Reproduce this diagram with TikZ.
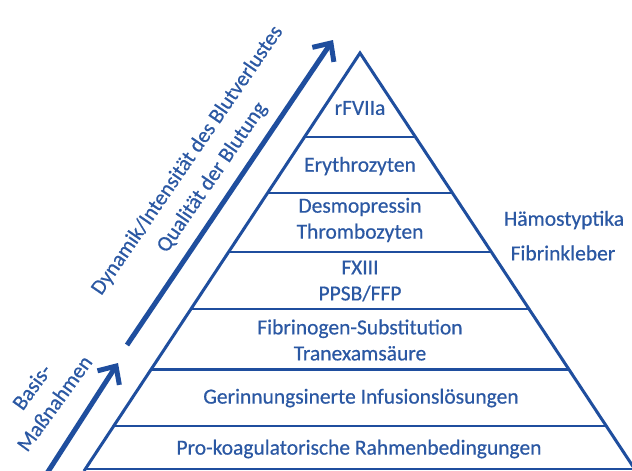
\documentclass[tikz,border=0pt]{standalone}
\usepackage{fontspec}
\setmainfont{Carlito}[FakeBold=0.5]
\usetikzlibrary{arrows.meta}
\definecolor{lineblue}{HTML}{1F4E9E}
\definecolor{textblue}{HTML}{2B58A3}
\begin{document}
\begin{tikzpicture}[x=1pt,y=-1pt,
  lbl/.style={text=textblue, font=\fontsize{21.5}{26}\selectfont, align=center, inner sep=0pt},
  sidelbl/.style={text=textblue, font=\fontsize{21.5}{30}\selectfont, align=center, inner sep=0pt},
  edge/.style={draw=lineblue, line width=3pt, line join=miter},
  sep/.style={draw=lineblue, line width=1.6pt},
  septhick/.style={draw=lineblue, line width=3pt},
  bigarrow/.style={draw=lineblue, line width=5pt, -{Straight Barb[length=14pt,width=26pt]}}]
\useasboundingbox (0,0) rectangle (632,471);
\clip (0,0) rectangle (632,471);
% pyramid
\coordinate (apex) at (360,53);
\coordinate (bl) at (84,471);
\coordinate (br) at (636,471);
\draw[edge] (bl) -- (apex) -- (br);
\foreach \y/\st [count=\i] in {137/sep,193/sep,252/sep,309/sep,369/septhick,426/sep,469/sep} {
  \pgfmathsetmacro\dx{0.66*(\y-53)}
  \coordinate (l\i) at ({360-\dx},\y);
  \coordinate (r\i) at ({360+\dx},\y);
  \draw[\st] (l\i) -- (r\i);
}
% pyramid labels
\node[lbl] (t1) at (360,108) {rFVIIa};
\node[lbl] (t2) at (360,166) {Erythrozyten};
\node[lbl] (t3) at (360,220) {Desmopressin\\Thrombozyten};
\node[lbl] (t4) at (360,281) {FXIII\\PPSB/FFP};
\node[lbl] (t5) at (360,340) {Fibrinogen-Substitution\\Tranexamsäure};
\node[lbl] (t6) at (361,398) {Gerinnungsinerte Infusionslösungen};
\node[lbl] (t7) at (359,449) {Pro-koagulatorische Rahmenbedingungen};
% side labels
\node[lbl] (h1) at (564,220) {Hämostyptika};
\node[lbl] (h2) at (563,253) {Fibrinkleber};
% arrows
\coordinate (a1s) at (127,345);
\coordinate (a1e) at (333,40);
\coordinate (a2s) at (42,481);
\coordinate (a2e) at (118,363);
\draw[bigarrow] (a1s) -- (a1e);
\draw[bigarrow] (a2s) -- (a2e);
\node[sidelbl, rotate=55.5] (d1) at (200,169) {Dynamik/Intensität des Blutverlustes\\Qualität der Blutung};
\node[sidelbl, rotate=54, font=\fontsize{21.5}{28}\selectfont] (b1) at (43,395) {Basis-\\Maßnahmen};
\end{tikzpicture}
\end{document}
